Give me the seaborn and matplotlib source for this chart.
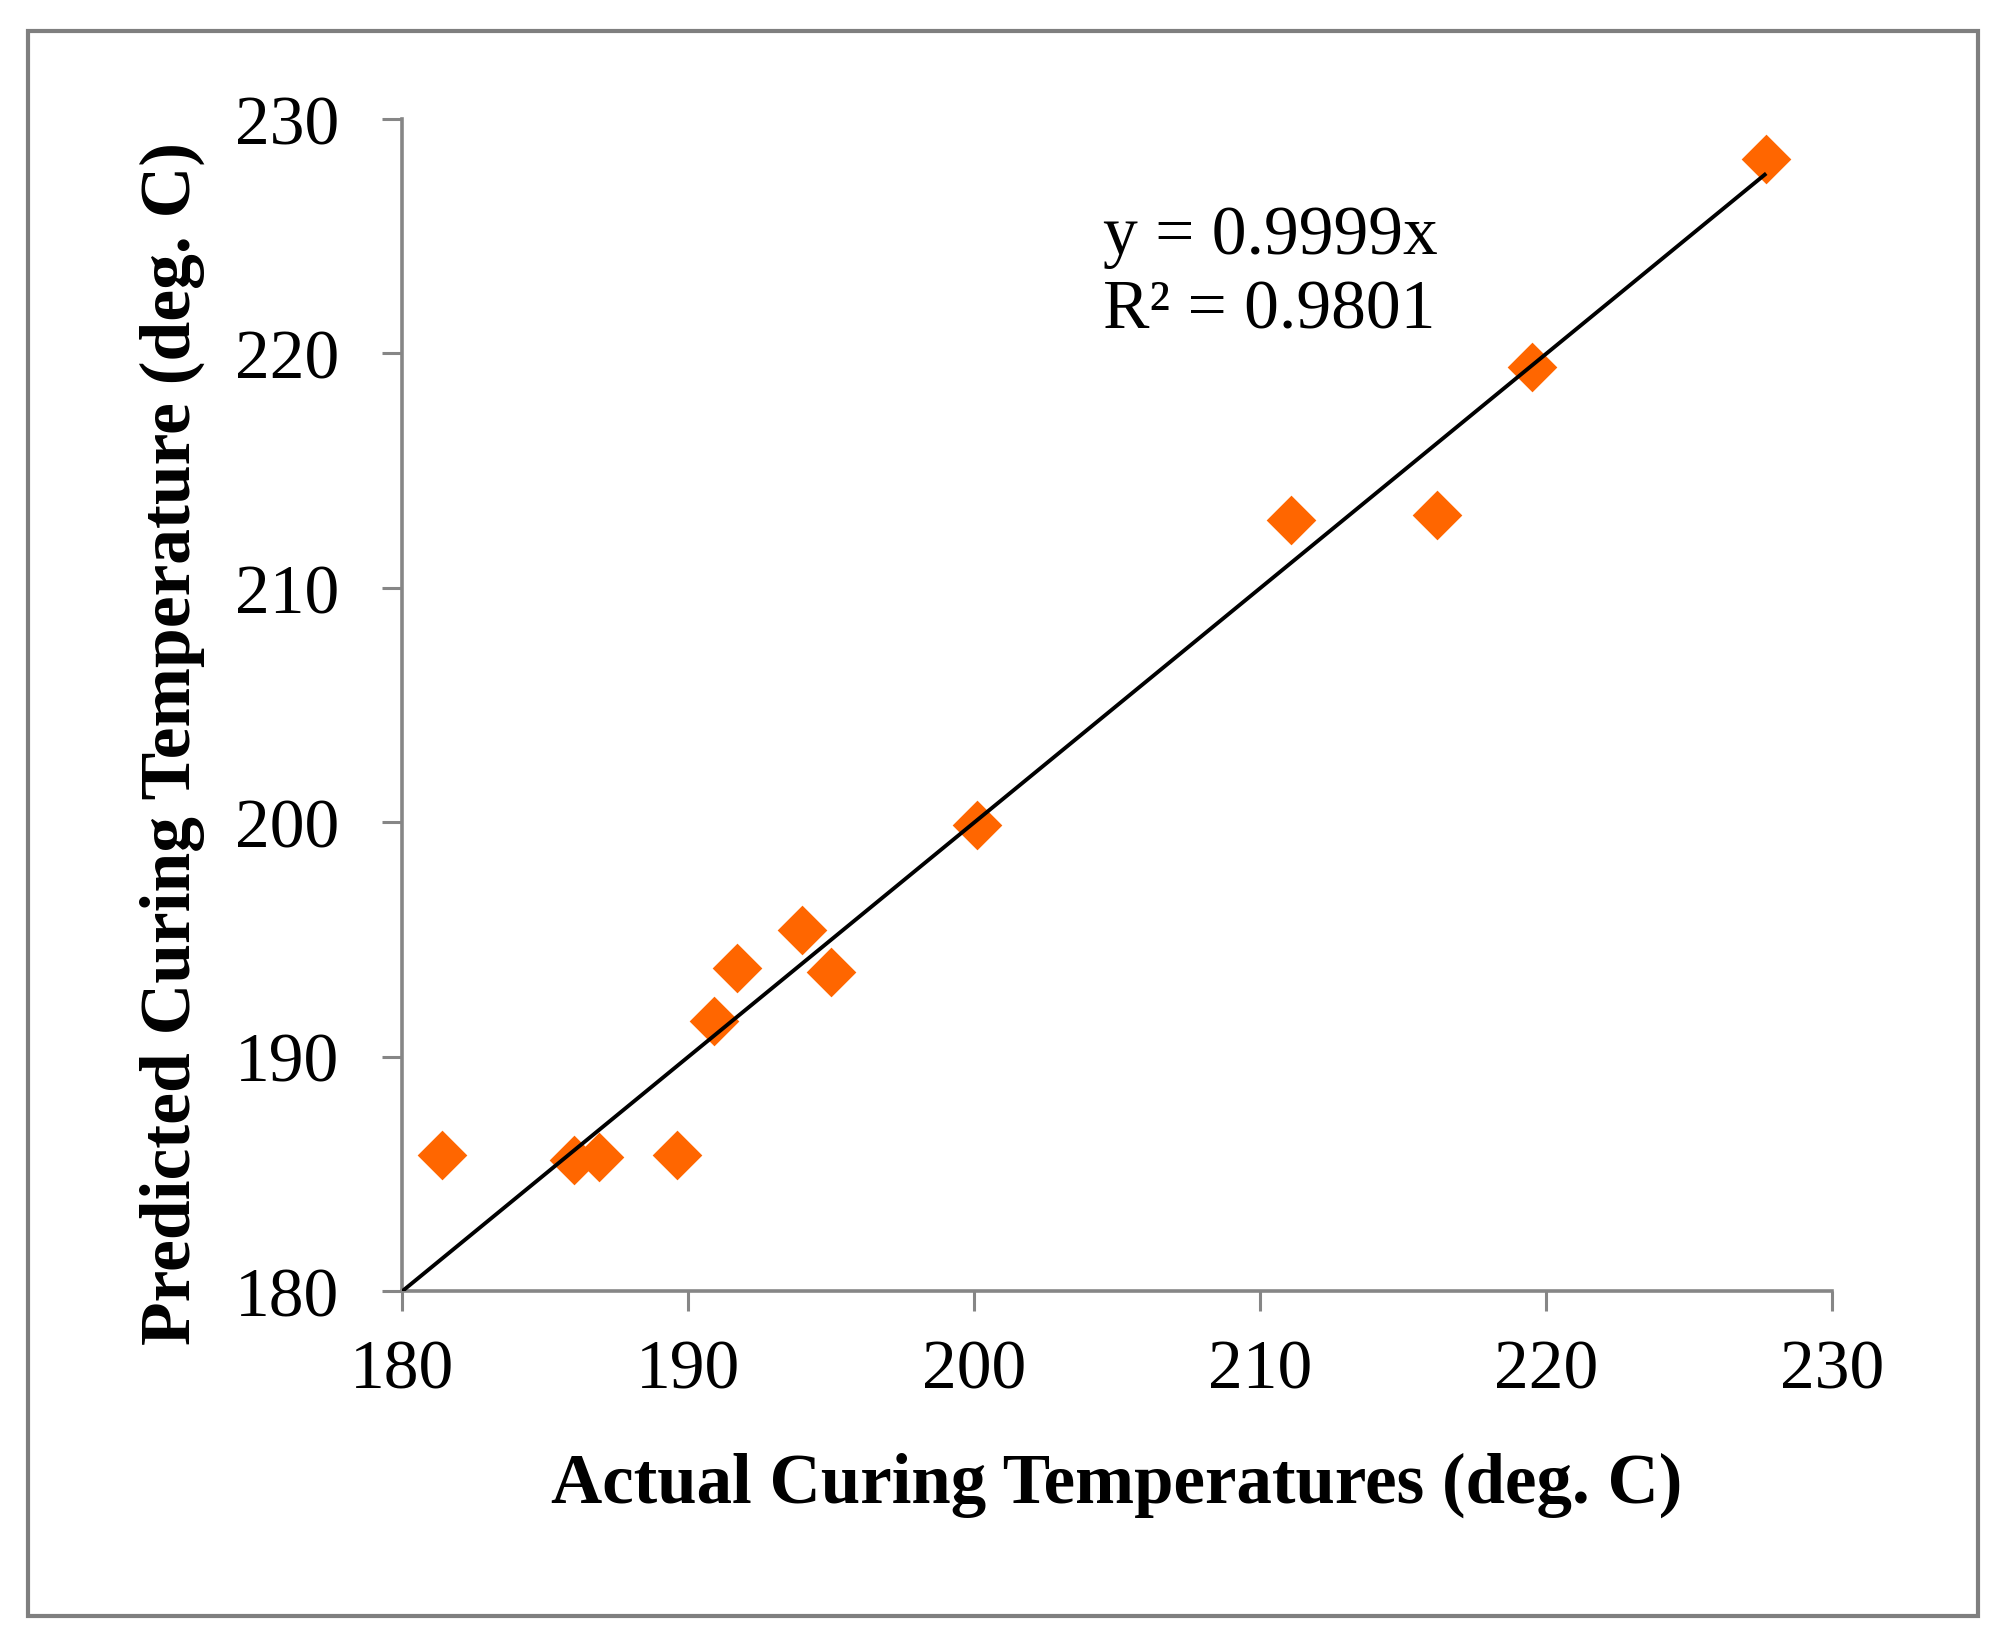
import numpy as np
import pandas as pd
import matplotlib
matplotlib.use("Agg")
import matplotlib.pyplot as plt
from matplotlib.patches import Rectangle
import seaborn as sns

# ---- data ----
actual = [181.4, 186.0, 186.9, 189.6, 190.9, 191.7, 194.0, 195.0, 200.1, 211.1, 216.2, 219.5, 227.7]
predicted = [185.8, 185.6, 185.7, 185.8, 191.5, 193.8, 195.4, 193.6, 199.9, 212.9, 213.1, 219.4, 228.3]
slope = 0.9999
r2 = 0.9801
ticks = [180, 190, 200, 210, 220, 230]
xlabel = "Actual Curing Temperatures (deg. C)"
ylabel = "Predicted Curing Temperature (deg. C)"

df = pd.DataFrame({"actual": actual, "predicted": predicted})

sns.set_style("white")
plt.rcParams["font.family"] = ["Liberation Serif", "DejaVu Serif"]
plt.rcParams["text.color"] = "black"

W, H, DPI = 1993, 1640, 100
fig = plt.figure(figsize=(W / DPI, H / DPI), dpi=DPI)
left, right = 402 / W, 1832 / W
bottom, top = 1 - 1292 / H, 1 - 120 / H
ax = fig.add_axes([left, bottom, right - left, top - bottom])

gray = "#868686"
sns.scatterplot(data=df, x="actual", y="predicted", marker="D", s=640,
                color="#FF6600", linewidth=0, ax=ax, zorder=2, legend=False)

ax.set_xlim(ticks[0], ticks[-1])
ax.set_ylim(ticks[0], ticks[-1])
xl = np.array([ticks[0], max(actual)])
ax.plot(xl, slope * xl, color="black", lw=2.8, zorder=3, solid_capstyle="butt")

ax.set_xticks(ticks)
ax.set_yticks(ticks)
ax.tick_params(axis="both", direction="out", length=14.4, width=2.2, color=gray,
               labelsize=50, labelcolor="black", bottom=True, left=True)
ax.tick_params(axis="x", pad=20)
ax.tick_params(axis="y", pad=31)

for side in ["top", "right"]:
    ax.spines[side].set_visible(False)
for side in ["left", "bottom"]:
    ax.spines[side].set_color(gray)
    ax.spines[side].set_linewidth(2.6)

ax.set_xlabel(xlabel, fontsize=51, fontweight="bold", color="black")
ax.set_ylabel(ylabel, fontsize=51.5, fontweight="bold", color="black")
ax.xaxis.set_label_coords(0.5, -0.137)
ax.yaxis.set_label_coords(-0.1378, 0.4684)

ax.text(0.4902, 0.8857, f"y = {slope:.4f}x", transform=ax.transAxes,
        fontsize=50, ha="left", va="baseline", color="black")
ax.text(0.4902, 0.8225, f"R² = {r2:.4f}", transform=ax.transAxes,
        fontsize=50, ha="left", va="baseline", color="black")

fig.patches.append(Rectangle((28 / W, 1 - 1617 / H), (1978 - 28) / W, (1617 - 32) / H,
                             transform=fig.transFigure, fill=False,
                             edgecolor="#7f7f7f", linewidth=3.0))

fig.savefig("out.png", dpi=DPI, facecolor="white")
